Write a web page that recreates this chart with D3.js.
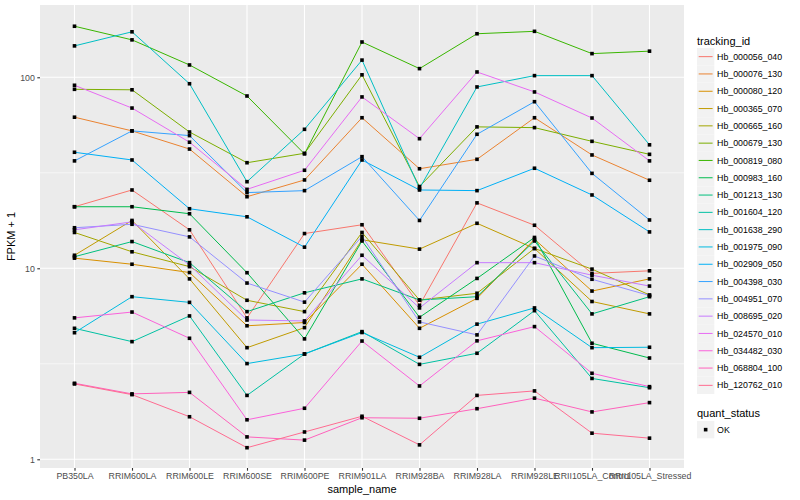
<!DOCTYPE html>
<html>
<head>
<meta charset="utf-8">
<script src="https://cdn.jsdelivr.net/npm/d3@7"></script>
<style>
  body { margin: 0; background: #fff; }
  text { font-family: "Liberation Sans", Arial, sans-serif; }
</style>
</head>
<body>
<svg id="chart" width="800" height="500"></svg>
<script>
var samples = ["PB350LA", "RRIM600LA", "RRIM600LE", "RRIM600SE", "RRIM600PE", "RRIM901LA",
    "RRIM928BA", "RRIM928LA", "RRIM928LE", "RRII105LA_Control", "RRII105LA_Stressed"];

var trackingIds = ["Hb_000056_040", "Hb_000076_130", "Hb_000080_120", "Hb_000365_070",
    "Hb_000665_160", "Hb_000679_130", "Hb_000819_080", "Hb_000983_160", "Hb_001213_130",
    "Hb_001604_120", "Hb_001638_290", "Hb_001975_090", "Hb_002909_050", "Hb_004398_030",
    "Hb_004951_070", "Hb_008695_020", "Hb_024570_010", "Hb_034482_030", "Hb_068804_100",
    "Hb_120762_010"];

// FPKM + 1, one row per tracking id, one value per sample
var fpkm = [
    [21.0, 25.7, 15.9, 5.5, 15.2, 16.9, 6.4, 22.0, 16.8, 9.4, 9.7],
    [61.8, 52.4, 42.1, 23.7, 29.0, 61.4, 33.2, 37.2, 61.4, 39.2, 28.9],
    [11.3, 10.5, 9.5, 5.0, 5.2, 10.5, 4.85, 6.96, 14.2, 7.6, 8.8],
    [11.7, 17.8, 8.8, 3.84, 4.89, 14.1, 12.6, 17.2, 12.7, 6.7, 5.77],
    [15.4, 12.2, 10.2, 6.8, 5.93, 15.4, 6.82, 7.4, 12.7, 9.9, 7.25],
    [86.5, 86.0, 51.7, 35.7, 40.0, 103, 26.8, 55.0, 54.5, 46.2, 39.5],
    [185, 157, 116, 79.8, 39.7, 153, 111, 169, 174, 133, 137],
    [21.0, 21.0, 19.3, 9.48, 4.27, 13.9, 5.54, 8.85, 14.5, 4.05, 3.39],
    [11.5, 13.8, 10.7, 5.93, 7.44, 8.8, 6.82, 7.1, 13.9, 5.77, 7.1],
    [4.85, 4.13, 5.63, 2.16, 3.56, 4.66, 3.14, 3.59, 6.0, 2.65, 2.37],
    [146, 173, 92.5, 28.4, 53.4, 123, 26.2, 89.0, 102, 102, 44.3],
    [4.6, 7.1, 6.63, 3.17, 3.56, 4.61, 3.42, 5.1, 6.2, 3.84, 3.86],
    [40.5, 36.9, 20.5, 18.6, 12.9, 36.9, 25.7, 25.5, 33.4, 24.2, 15.5],
    [36.5, 52.4, 49.5, 24.9, 25.5, 38.4, 17.8, 50.3, 74.5, 31.4, 17.9],
    [16.3, 17.0, 14.6, 8.37, 6.65, 14.7, 5.24, 4.48, 11.6, 8.76, 7.2],
    [15.9, 17.5, 10.4, 5.36, 5.3, 11.7, 6.2, 10.7, 10.7, 9.2, 8.07],
    [90.8, 69.0, 45.7, 25.9, 32.6, 78.9, 47.7, 106.6, 83.8, 61.2, 36.5],
    [5.5, 5.9, 4.3, 1.61, 1.85, 4.16, 2.42, 4.17, 4.95, 2.82, 2.4],
    [2.5, 2.2, 2.24, 1.31, 1.26, 1.65, 1.64, 1.84, 2.09, 1.77, 1.98],
    [2.48, 2.18, 1.67, 1.15, 1.39, 1.68, 1.19, 2.16, 2.28, 1.37, 1.29]
];

var quantStatus = ["OK"];
var yTicks = [1, 10, 100];
var yMinorTicks = [3.1623, 31.623];

// ggplot2 default hue palette for 20 levels
var palette = ["#F8766D", "#EA8331", "#D89000", "#C09B00", "#A3A500", "#7CAE00", "#39B600",
    "#00BB4E", "#00BF7D", "#00C1A3", "#00BFC4", "#00BAE0", "#00B0F6", "#35A2FF", "#9590FF",
    "#C77CFF", "#E76BF3", "#FA62DB", "#FF62BC", "#FF6C91"];

var panel = {left: 40, top: 5, right: 684, bottom: 468};
var svg = d3.select('#chart');

var x = d3.scalePoint()
    .domain(samples)
    .range([panel.left, panel.right])
    .padding(0.6);

var y = d3.scaleLog()
    .domain([0.9003, 239])
    .range([panel.bottom, panel.top]);

var color = d3.scaleOrdinal().domain(trackingIds).range(palette);

// panel background + grid
svg.append('rect')
    .attr('x', panel.left).attr('y', panel.top)
    .attr('width', panel.right - panel.left)
    .attr('height', panel.bottom - panel.top)
    .attr('fill', '#EBEBEB');

svg.selectAll('.minor').data(yMinorTicks).enter().append('line')
    .attr('x1', panel.left).attr('x2', panel.right)
    .attr('y1', function(d) { return y(d); }).attr('y2', function(d) { return y(d); })
    .attr('stroke', '#fff').attr('stroke-width', 0.55);

svg.selectAll('.majorY').data(yTicks).enter().append('line')
    .attr('x1', panel.left).attr('x2', panel.right)
    .attr('y1', function(d) { return y(d); }).attr('y2', function(d) { return y(d); })
    .attr('stroke', '#fff').attr('stroke-width', 1.1);

svg.selectAll('.majorX').data(samples).enter().append('line')
    .attr('y1', panel.top).attr('y2', panel.bottom)
    .attr('x1', function(d) { return x(d); }).attr('x2', function(d) { return x(d); })
    .attr('stroke', '#fff').attr('stroke-width', 1.1);

// lines
var line = d3.line()
    .x(function(d, i) { return x(samples[i]); })
    .y(function(d) { return y(d); });

svg.selectAll('.series').data(fpkm).enter().append('path')
    .attr('d', line)
    .attr('fill', 'none')
    .attr('stroke', function(d, i) { return color(trackingIds[i]); })
    .attr('stroke-width', 1);

// points
var pts = [];
fpkm.forEach(function(row) {
    row.forEach(function(v, i) { pts.push({s: samples[i], v: v}); });
});
var ps = 3.6;
svg.selectAll('.pt').data(pts).enter().append('rect')
    .attr('x', function(d) { return x(d.s) - ps / 2; })
    .attr('y', function(d) { return y(d.v) - ps / 2; })
    .attr('width', ps).attr('height', ps)
    .attr('fill', '#000');

// axes
var xAxis = svg.append('g')
    .attr('transform', 'translate(0,' + panel.bottom + ')')
    .call(d3.axisBottom(x).tickSize(2.7).tickPadding(2.4));
var yAxis = svg.append('g')
    .attr('transform', 'translate(' + panel.left + ',0)')
    .call(d3.axisLeft(y).tickValues(yTicks).tickFormat(d3.format('d')).tickSize(2.7).tickPadding(2.4));

[xAxis, yAxis].forEach(function(g) {
    g.select('.domain').remove();
    g.selectAll('.tick line').attr('stroke', '#333333').attr('stroke-width', 1.1);
    g.selectAll('.tick text')
        .attr('fill', '#4D4D4D')
        .style('font-size', '8.8px')
        .style('font-family', '"Liberation Sans", Arial, sans-serif');
});

svg.append('text')
    .attr('x', (panel.left + panel.right) / 2).attr('y', 493)
    .attr('text-anchor', 'middle')
    .style('font-size', '11px')
    .text('sample_name');

svg.append('text')
    .attr('transform', 'translate(15,' + (panel.top + panel.bottom) / 2 + ') rotate(-90)')
    .attr('text-anchor', 'middle')
    .style('font-size', '11px')
    .text('FPKM + 1');

// legend: tracking_id
var lgX = 697, keyW = 17.3, keyH = 17.3, firstKey = 48;
svg.append('text')
    .attr('x', lgX).attr('y', 44.5)
    .style('font-size', '11px')
    .text('tracking_id');

var items = svg.selectAll('.lg').data(trackingIds).enter().append('g')
    .attr('transform', function(d, i) { return 'translate(' + lgX + ',' + (firstKey + i * keyH) + ')'; });
items.append('rect')
    .attr('width', keyW).attr('height', keyH)
    .attr('fill', '#F2F2F2');
items.append('line')
    .attr('x1', 1.7).attr('x2', keyW - 1.7)
    .attr('y1', keyH / 2).attr('y2', keyH / 2)
    .attr('stroke', function(d) { return color(d); })
    .attr('stroke-width', 1);
items.append('text')
    .attr('x', keyW + 2.8).attr('y', keyH / 2 + 3.1)
    .style('font-size', '8.8px')
    .attr('fill', '#000')
    .text(function(d) { return d; });

// legend: quant_status
svg.append('text')
    .attr('x', lgX).attr('y', 417)
    .style('font-size', '11px')
    .text('quant_status');

var q = svg.selectAll('.lq').data(quantStatus).enter().append('g')
    .attr('transform', 'translate(' + lgX + ',' + 421 + ')');
q.append('rect')
    .attr('width', keyW).attr('height', keyH)
    .attr('fill', '#F2F2F2');
q.append('rect')
    .attr('x', keyW / 2 - ps / 2).attr('y', keyH / 2 - ps / 2)
    .attr('width', ps).attr('height', ps)
    .attr('fill', '#000');
q.append('text')
    .attr('x', keyW + 2.8).attr('y', keyH / 2 + 3.1)
    .style('font-size', '8.8px')
    .text(function(d) { return d; });
</script>
</body>
</html>
